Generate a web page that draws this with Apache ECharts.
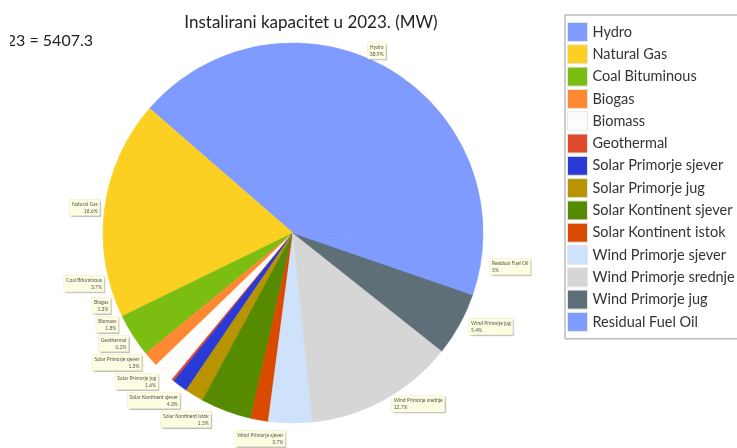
<!DOCTYPE html>
<html>
<head>
<meta charset="utf-8">
<script src="https://cdn.jsdelivr.net/npm/echarts@6/dist/echarts.min.js"></script>
<style>
  html, body { margin: 0; padding: 0; background: #fff; }
  #chart { width: 737px; height: 448px; }
</style>
</head>
<body>
<div id="chart"></div>
<script>
// installed capacity per source, MW
const sources = [
	"Hydro", "Natural Gas", "Coal Bituminous", "Biogas", "Biomass", "Geothermal",
	"Solar Primorje sjever", "Solar Primorje jug", "Solar Kontinent sjever", "Solar Kontinent istok",
	"Wind Primorje sjever", "Wind Primorje srednje", "Wind Primorje jug", "Residual Fuel Oil"
];
const capacity = [2103, 1006, 200, 70, 97, 11, 70, 87, 233, 81, 200, 687, 292, 270];
const colors = [
	"#809bff", "#fcd022", "#7cbd12", "#ff8833", "#fdfdfb", "#e04a2a",
	"#2a3ad6", "#b89500", "#568a00", "#d94a00",
	"#cfe2fb", "#d6d6d6", "#5e6f78", "#809bff"
];
const title = "Instalirani kapacitet u 2023. (MW)";
const totalText = "Ukupno 2023 = 5407.3";

const chart = echarts.init(document.getElementById("chart"));

// stroke each slice in its own colour so no seams show between slices
const pieData = sources.map((name, i) => ({
	name: name,
	value: capacity[i],
	itemStyle: { color: colors[i], borderColor: colors[i], borderWidth: 0.6 }
}));

chart.setOption({
	animation: false,
	title: {
		text: title,
		left: 306,
		textAlign: "center",
		top: 9,
		textStyle: { fontFamily: "Lato", fontSize: 17, fontWeight: "normal", color: "#222" }
	},
	graphic: [{
		type: "text",
		right: 737 - 93,
		top: 33,
		style: { text: totalText, fontFamily: "Lato", fontSize: 16, fill: "#222", textAlign: "right" }
	}, {
		// the reference cuts the total text off at its left edge
		type: "rect",
		left: 0,
		top: 28,
		shape: { width: 10, height: 28 },
		style: { fill: "#fff" }
	}],
	legend: {
		orient: "vertical",
		left: 565,
		top: 15,
		padding: [7, 80, 7, 2],
		borderColor: "#9a9a9a",
		borderWidth: 1,
		itemWidth: 20,
		itemHeight: 19,
		itemGap: 2.3,
		icon: "rect",
		itemStyle: { borderColor: "#e6e6e6", borderWidth: 1 },
		textStyle: { fontFamily: "Lato", fontSize: 14.5, lineHeight: 20, color: "#333", padding: [0, 0, 0, 0] },
		data: sources
	},
	series: [{
		type: "pie",
		center: [293, 233],
		radius: 190,
		startAngle: -1,
		clockwise: false,
		percentPrecision: 1,
		data: pieData,
		label: {
			position: "outside",
			formatter: "{b}\n{d}%",
			fontFamily: "Lato",
			fontSize: 5,
			lineHeight: 7,
			color: "#555",
			align: "center",
			backgroundColor: "#fdfde2",
			borderColor: "#ececc8",
			borderWidth: 0.5,
			padding: [1, 2],
			shadowColor: "rgba(0,0,0,0.15)",
			shadowBlur: 1,
			shadowOffsetX: 1,
			shadowOffsetY: 1
		},
		labelLine: { show: false, length: 5, length2: 0 },
		emphasis: { disabled: true }
	}]
});
</script>
</body>
</html>
